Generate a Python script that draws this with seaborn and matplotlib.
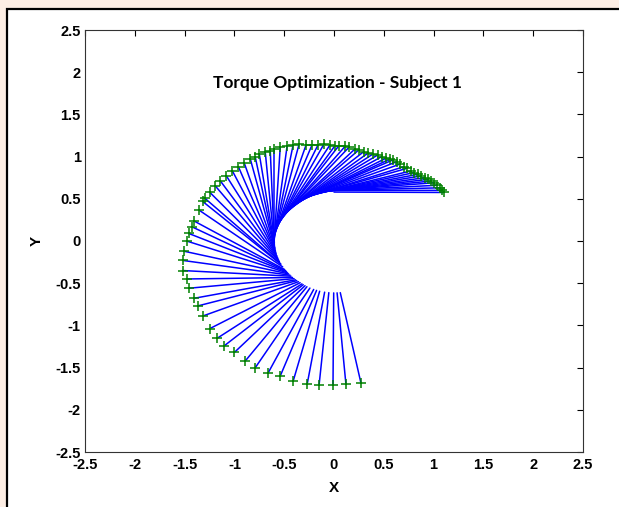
import pandas as pd
import seaborn as sns
import matplotlib.pyplot as plt
from matplotlib.patches import Rectangle

# wrist positions (green +), start at bottom right
wrist_x = [0.27, 0.12, -0.01, -0.15, -0.27, -0.41, -0.54, -0.66, -0.79, -0.89,
           -1.00, -1.10, -1.17, -1.25, -1.32, -1.37, -1.41, -1.46, -1.48, -1.52,
           -1.52, -1.51, -1.48, -1.46, -1.43, -1.41, -1.36, -1.32, -1.30, -1.25,
           -1.19, -1.14, -1.08, -1.02, -0.96, -0.90, -0.84, -0.79, -0.75, -0.69,
           -0.64, -0.60, -0.54, -0.47, -0.41, -0.35, -0.28, -0.22, -0.16, -0.10,
           -0.04, 0.01, 0.05, 0.11, 0.15, 0.21, 0.25, 0.30, 0.34, 0.39,
           0.44, 0.48, 0.52, 0.56, 0.59, 0.63, 0.66, 0.70, 0.73, 0.77,
           0.80, 0.84, 0.87, 0.91, 0.94, 0.97, 1.00, 1.03, 1.06, 1.08, 1.10]
wrist_y = [-1.68, -1.70, -1.71, -1.71, -1.70, -1.66, -1.60, -1.56, -1.50, -1.42,
           -1.32, -1.24, -1.15, -1.04, -0.89, -0.77, -0.68, -0.56, -0.45, -0.35,
           -0.23, -0.12, 0.00, 0.09, 0.17, 0.24, 0.37, 0.47, 0.51, 0.58,
           0.65, 0.71, 0.77, 0.83, 0.88, 0.92, 0.97, 0.99, 1.03, 1.05,
           1.07, 1.09, 1.11, 1.13, 1.14, 1.15, 1.14, 1.14, 1.14, 1.15,
           1.14, 1.13, 1.13, 1.12, 1.11, 1.09, 1.08, 1.06, 1.04, 1.03,
           1.02, 1.00, 0.98, 0.97, 0.96, 0.94, 0.91, 0.88, 0.86, 0.83,
           0.81, 0.79, 0.77, 0.75, 0.73, 0.71, 0.69, 0.66, 0.63, 0.60, 0.575]

# elbow positions (inner end of each blue line), estimated
elbow_x = [0.063, 0.031, -0.003, -0.052, -0.094, -0.144, -0.175, -0.204, -0.242, -0.272,
           -0.291, -0.309, -0.322, -0.340, -0.357, -0.374, -0.386, -0.401, -0.417, -0.432,
           -0.442, -0.456, -0.466, -0.476, -0.485, -0.496, -0.515, -0.533, -0.537, -0.548,
           -0.555, -0.563, -0.572, -0.580, -0.585, -0.588, -0.593, -0.595, -0.598, -0.599,
           -0.599, -0.600, -0.600, -0.599, -0.598, -0.595, -0.594, -0.591, -0.587, -0.580,
           -0.574, -0.569, -0.562, -0.552, -0.545, -0.533, -0.522, -0.510, -0.500, -0.481,
           -0.461, -0.445, -0.429, -0.409, -0.389, -0.371, -0.358, -0.336, -0.315, -0.292,
           -0.267, -0.236, -0.215, -0.185, -0.163, -0.137, -0.110, -0.079, -0.049, -0.027, 0.000]
elbow_y = [-0.612, -0.614, -0.615, -0.612, -0.606, -0.595, -0.585, -0.574, -0.558, -0.542,
           -0.530, -0.518, -0.508, -0.494, -0.482, -0.470, -0.460, -0.446, -0.432, -0.417,
           -0.405, -0.390, -0.378, -0.365, -0.353, -0.338, -0.307, -0.276, -0.269, -0.245,
           -0.229, -0.206, -0.180, -0.154, -0.135, -0.119, -0.093, -0.079, -0.053, -0.040,
           -0.025, -0.008, 0.012, 0.036, 0.054, 0.074, 0.086, 0.105, 0.125, 0.155,
           0.175, 0.190, 0.210, 0.235, 0.251, 0.276, 0.295, 0.316, 0.332, 0.359,
           0.384, 0.402, 0.420, 0.439, 0.457, 0.472, 0.482, 0.497, 0.510, 0.524,
           0.537, 0.551, 0.560, 0.571, 0.577, 0.584, 0.590, 0.595, 0.598, 0.599, 0.580]

ticks = [-2.5, -2, -1.5, -1, -0.5, 0, 0.5, 1, 1.5, 2, 2.5]
tick_labels = ["-2.5", "-2", "-1.5", "-1", "-0.5", "0", "0.5", "1", "1.5", "2", "2.5"]
title = "Torque Optimization - Subject 1"

# one row per line end, grouped by time step
seg = pd.DataFrame({
    "step": list(range(len(wrist_x))) * 2,
    "x": elbow_x + wrist_x,
    "y": elbow_y + wrist_y,
    "end": [0] * len(wrist_x) + [1] * len(wrist_x),
}).sort_values(["step", "end"])

sns.set_style("white")
plt.rcParams["font.family"] = ["Liberation Sans", "DejaVu Sans"]
plt.rcParams["axes.unicode_minus"] = False
plt.rcParams["text.color"] = "black"
plt.rcParams["axes.labelcolor"] = "black"

fig = plt.figure(figsize=(6.19, 5.07), dpi=100)
fig.patch.set_facecolor("#fdeee4")
# white panel with black frame (screenshot border), behind the axes
panel = Rectangle((6.5 / 619, -0.1), 1.2, 1.1 - 9 / 507,
                  transform=fig.transFigure, facecolor="white",
                  edgecolor="black", linewidth=1.6, zorder=-1)
fig.add_artist(panel)

ax = fig.add_axes([85 / 619, 1 - 452 / 507, 498 / 619, 422 / 507])
ax.set_zorder(1)
ax.set_facecolor("white")

sns.lineplot(data=seg, x="x", y="y", units="step", estimator=None, sort=False,
             color="#0000ff", linewidth=1.1, ax=ax)
sns.scatterplot(x=wrist_x, y=wrist_y, marker="+", color="#008000", s=60,
                linewidth=1.1, ax=ax, zorder=3)

ax.set_xlim(-2.5, 2.5)
ax.set_ylim(-2.5, 2.5)
ax.set_xticks(ticks)
ax.set_yticks(ticks)
ax.set_xticklabels(tick_labels)
ax.set_yticklabels(tick_labels)
ax.tick_params(direction="in", length=4, width=0.8, top=True, right=True,
               labelsize=10.5, pad=3, colors="black")
ax.tick_params(axis="x", pad=4)
for lab in ax.get_xticklabels() + ax.get_yticklabels():
    lab.set_fontweight("bold")
for sp in ax.spines.values():
    sp.set_color("#333333")
    sp.set_linewidth(0.8)

ax.set_xlabel("X", fontsize=11, fontweight="bold", labelpad=7, color="black")
ax.set_ylabel("Y", fontsize=11, fontweight="bold", labelpad=8, color="black")
ax.text(0.508, 0.874, title, transform=ax.transAxes, ha="center", va="center",
        fontsize=12.5, fontweight="bold", color="black",
        family=["Lato", "DejaVu Sans"])

fig.savefig("out.png", dpi=100, facecolor=fig.get_facecolor())
